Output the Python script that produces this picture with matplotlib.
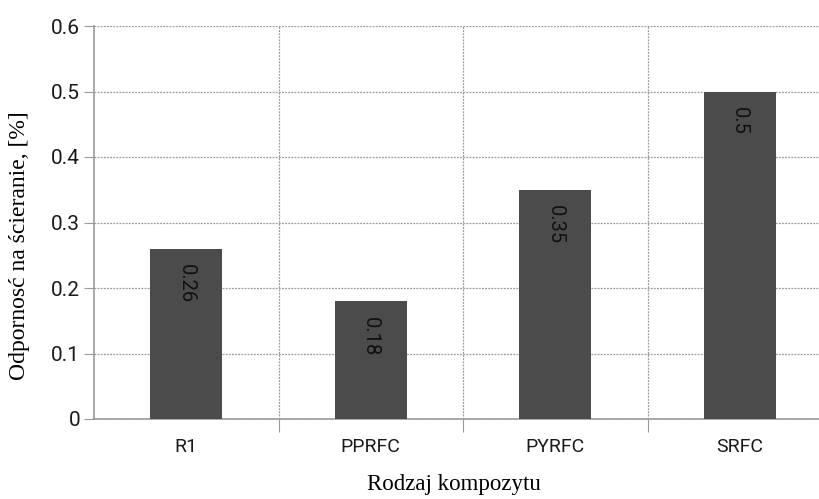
import matplotlib.pyplot as plt
import numpy as np
from matplotlib.ticker import FixedLocator

categories = ["R1", "PPRFC", "PYRFC", "SRFC"]
values = [0.26, 0.18, 0.35, 0.5]
yticks = [0, 0.1, 0.2, 0.3, 0.4, 0.5, 0.6]
ytick_labels = ["0", "0.1", "0.2", "0.3", "0.4", "0.5", "0.6"]

fig = plt.figure(figsize=(8.19, 4.99), dpi=100)
ax = fig.add_axes([94 / 819, 1 - 419 / 499, 738 / 819, 393 / 499])

x = np.arange(len(categories))
bars = ax.bar(x, values, width=0.39, color="#4b4b4b", zorder=3)

# values printed vertically inside the top of each bar
for xi, v in zip(x, values):
    ax.text(xi, v - 0.024, f"{v:g}", rotation=-90, ha="center", va="top",
            fontsize=14.5, family="Roboto", color="#111111", zorder=4)

ax.set_xlim(-0.5, len(categories) - 0.5)
ax.set_ylim(0, 0.6)

ax.set_yticks(yticks)
ax.set_yticklabels(ytick_labels, family="Roboto", fontsize=15, color="#1a1a1a")
ax.set_xticks(x)
ax.set_xticklabels(categories, family="Roboto", fontsize=14, color="#1a1a1a")
ax.xaxis.set_minor_locator(FixedLocator(x[:-1] + 0.5))

ax.tick_params(axis="x", which="major", length=0, pad=14)
ax.tick_params(axis="x", which="minor", length=9, color="#999999", width=0.8)
ax.tick_params(axis="y", length=7, color="#999999", width=0.8, pad=3)

ax.grid(axis="y", which="major", linestyle=(0, (1.5, 1)), color="#9a9a9a", linewidth=0.9, zorder=0)
ax.grid(axis="x", which="minor", linestyle=(0, (1.5, 1)), color="#9a9a9a", linewidth=0.9, zorder=0)

for side in ["top", "right"]:
    ax.spines[side].set_visible(False)
for side in ["left", "bottom"]:
    ax.spines[side].set_color("#999999")
    ax.spines[side].set_linewidth(1.2)

ax.set_ylabel("Odpornosć na ścieranie, [%]", family="Liberation Serif", fontsize=17)
ax.yaxis.set_label_coords((30 - 94) / 738, 0.44)
ax.set_xlabel("Rodzaj kompozytu", family="Liberation Serif", fontsize=16.5)
ax.xaxis.set_label_coords((454 - 94) / 738, (419 - 474) / 393)

fig.savefig("out.png", dpi=100)
